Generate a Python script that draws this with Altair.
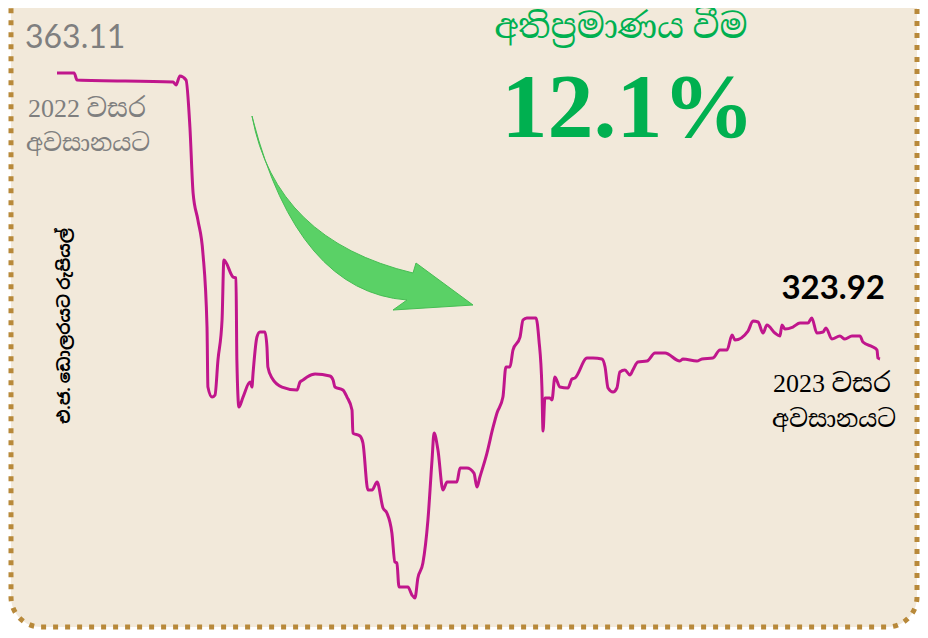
import altair as alt
import pandas as pd

# Day of year 2023 (0 = first trading day) and LKR per USD
days = [0.0, 7.5, 8.8, 50.9, 52.2, 53.9, 56.6, 58.3, 59.7, 61.8, 64.0, 65.8, 66.2, 68.0, 69.3,
        70.6, 72.4, 73.2, 77.2, 78.5, 78.9, 79.8, 81.6, 84.7, 85.5, 86.0, 87.7, 89.0, 91.2,
        92.1, 92.5, 94.3, 98.7, 105.3, 106.6, 107.9, 109.7, 113.2, 119.7, 121.1, 121.9, 125.4,
        127.2, 129.4, 129.8, 132.9, 134.2, 136.4, 138.2, 140.4, 143.0, 144.7, 146.9, 148.2,
        149.1, 150.0, 153.9, 155.7, 157.0, 158.3, 160.5, 162.7, 164.5, 165.4, 167.1, 169.3,
        171.1, 175.4, 176.8, 179.8, 182.9, 184.2, 185.5, 188.6, 191.2, 193.0, 195.6, 196.9,
        198.7, 200.0, 203.1, 204.4, 206.1, 210.1, 211.4, 212.7, 213.2, 214.0, 216.2, 217.1,
        218.4, 220.6, 224.1, 225.9, 227.2, 232.5, 235.1, 239.0, 240.4, 241.7, 243.9, 245.6,
        246.9, 249.1, 251.3, 252.6, 254.8, 258.8, 262.3, 266.7, 273.2, 274.6, 280.7, 282.9,
        287.7, 290.8, 293.9, 296.1, 297.4, 303.1, 305.3, 307.5, 309.7, 311.4, 314.9, 317.1,
        318.0, 319.3, 322.8, 325.9, 329.4, 331.1, 333.3, 336.0, 337.3, 339.9, 343.4, 345.6,
        348.7, 352.2, 353.5, 357.9, 359.7, 360.1, 361.0]
rates = [363.11, 363.11, 362.15, 361.88, 361.47, 362.70, 362.15, 355.71, 346.67, 342.97, 338.45,
         328.31, 320.09, 318.72, 318.99, 323.79, 329.27, 337.49, 335.16, 335.02, 323.79, 317.35,
         318.72, 320.78, 320.09, 322.01, 326.94, 327.63, 327.63, 325.57, 322.83, 321.33, 320.09,
         319.68, 320.78, 321.05, 321.46, 321.87, 321.60, 321.05, 320.09, 319.68, 318.72, 316.94,
         313.79, 313.38, 312.42, 305.98, 305.98, 307.08, 303.52, 302.83, 300.09, 296.12, 295.98,
         292.70, 292.70, 291.60, 291.19, 293.93, 295.98, 301.87, 310.09, 313.79, 311.46, 305.98,
         307.08, 307.08, 308.99, 308.99, 308.31, 306.39, 307.76, 311.05, 314.48, 316.53, 318.72,
         322.83, 322.83, 325.16, 326.94, 329.27, 329.55, 329.55, 326.53, 320.09, 314.07, 318.59,
         318.59, 318.31, 321.46, 320.09, 319.96, 321.19, 321.33, 324.06, 324.06, 323.93, 322.83,
         319.96, 319.41, 319.96, 322.15, 322.42, 321.74, 322.42, 323.52, 323.65, 324.75, 324.75,
         323.65, 323.93, 323.65, 323.93, 324.06, 325.16, 325.16, 327.22, 326.53, 327.76, 329.13,
         329.00, 327.49, 328.59, 327.49, 327.08, 328.59, 328.04, 328.31, 328.86, 328.86, 329.55,
         327.49, 327.63, 328.18, 326.67, 327.08, 326.67, 327.08, 327.08, 326.26, 325.57, 325.16,
         324.06, 323.92]

start_label = "363.11"
end_label = "323.92"
start_caption = ["2022 වසර", "අවසානයට"]
end_caption = ["2023 වසර", "අවසානයට"]
title_text = "අතිප්‍රමාණය වීම"
pct_text = "12.1%"
y_title = "එ.ජ. ඩොලරයට රුපියල්"

df = pd.DataFrame({"day": days, "rate": rates})
one = pd.DataFrame({"k": [0]})

SERIF = "Liberation Serif, Noto Serif Sinhala, Noto Sans Sinhala, serif"
SANS = "Lato, Noto Sans Sinhala, sans-serif"

background = alt.Chart(one).mark_rect(
    fill="#F2E9DA", stroke="#B8893A", strokeWidth=5, strokeDash=[5, 7],
    cornerRadius=30
).encode(x=alt.value(3), x2=alt.value(909), y=alt.value(-60), y2=alt.value(619))

line = alt.Chart(df).mark_line(
    color="#C0168C", strokeWidth=3, interpolate="monotone"
).encode(
    x=alt.X("day:Q", axis=None,
            scale=alt.Scale(domain=[0, 361], range=[49, 872], nice=False, zero=False)),
    y=alt.Y("rate:Q", axis=None,
            scale=alt.Scale(domain=[291.19, 363.11], range=[590, 65], nice=False, zero=False)),
)

arrow_path = ("M-108,-94 Q-85,30 53,63 L56,53 L113,95 L33,100 L47,90 "
              "Q-62,82 -107,-90 Z")
arrow = alt.Chart(one).mark_point(
    shape=arrow_path, size=4, filled=True, fill="#52D060", opacity=0.95,
    stroke="#3DBB4C", strokeWidth=1
).encode(x=alt.value(352), y=alt.value(202))


def label(text, x, y, **kw):
    return alt.Chart(one).mark_text(**kw).encode(
        x=alt.value(x), y=alt.value(y), text=alt.value(text))


layers = [
    background, line, arrow,
    label(start_label, 17, 40, font=SANS, fontSize=32, color="#7F7F7F",
          align="left", baseline="alphabetic"),
    label(start_caption[0], 20, 109, font=SERIF, fontSize=26, color="#7F7F7F",
          align="left", baseline="alphabetic"),
    label(start_caption[1], 18, 143, font=SERIF, fontSize=24, color="#7F7F7F",
          align="left", baseline="alphabetic"),
    label(title_text, 613, 30, font=SERIF, fontSize=34, color="#00B050",
          align="center", baseline="alphabetic"),
    label(pct_text, 620, 129, font=SERIF, fontSize=92, fontWeight="bold",
          color="#00B050", align="center", baseline="alphabetic"),
    label(end_label, 877, 291, font=SANS, fontSize=33, fontWeight="bold",
          color="#000000", align="right", baseline="alphabetic"),
    label(end_caption[0], 765, 384, font=SERIF, fontSize=26, color="#000000",
          align="left", baseline="alphabetic"),
    label(end_caption[1], 764, 419, font=SERIF, fontSize=24, color="#000000",
          align="left", baseline="alphabetic"),
    label(y_title, 57, 318, font=SANS, fontSize=17, fontWeight="bold", color="#000000",
          angle=270, align="center", baseline="middle"),
]

chart = alt.layer(*layers).properties(
    width=912, height=622,
    autosize=alt.AutoSizeParams(type="none"),
    padding=0,
    background="white",
).configure_view(strokeWidth=0)

chart.save("out.html", embed_options={"renderer": "svg", "actions": False})
